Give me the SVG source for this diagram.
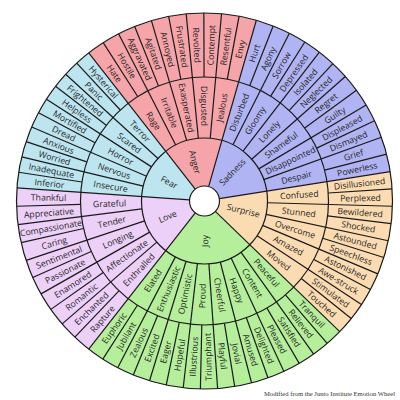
<svg xmlns="http://www.w3.org/2000/svg" xmlns:xlink="http://www.w3.org/1999/xlink" width="400" height="400" viewBox="0 0 400 400">
<style>
text{font-family:"Open Sans","Liberation Sans",sans-serif;font-size:8.7px;fill:#1f1f1f;text-anchor:middle}
.ln line,.ln use{stroke:#1a1a1a;stroke-width:1.2}
.ring{fill:none;stroke:#1a1a1a;stroke-width:1.2}
.cap{font-family:"Liberation Serif",serif;font-size:6.6px;text-anchor:end;fill:#333}
</style>
<defs>
<line id="lo" x1="0" y1="-124" x2="0" y2="-188"/>
<line id="lm" x1="0" y1="-63" x2="0" y2="-188"/>
<line id="lf" x1="0" y1="-15" x2="0" y2="-188"/>
</defs>
<rect width="400" height="400" fill="#fff"/>
<g transform="translate(204.5,201)">
<g id="anger">
<path d="M0 0L-115.74 -148.15A188 188 0 0 1 51.82 -180.72Z" fill="#F5A4A9"/>
<text dy=".35em" transform="rotate(54.7) translate(-156,0)">Hate</text>
<text dy=".35em" transform="rotate(60.1) translate(-156,0)">Hostile</text>
<text dy=".35em" transform="rotate(65.5) translate(-156,0)">Aggravated</text>
<text dy=".35em" transform="rotate(70.9) translate(-156,0)">Agitated</text>
<text dy=".35em" transform="rotate(76.3) translate(-156,0)">Annoyed</text>
<text dy=".35em" transform="rotate(81.7) translate(-156,0)">Frustrated</text>
<text dy=".35em" transform="rotate(87.1) translate(-156,0)">Revolted</text>
<text dy=".35em" transform="rotate(-87.5) translate(156,0)">Contempt</text>
<text dy=".35em" transform="rotate(-82.1) translate(156,0)">Resentful</text>
<text dy=".35em" transform="rotate(-76.7) translate(156,0)">Envy</text>
<text dy=".35em" transform="rotate(57.4) translate(-95,0)">Rage</text>
<text dy=".35em" transform="rotate(68.2) translate(-95,0)">Irritable</text>
<text dy=".35em" transform="rotate(79) translate(-95,0)">Exasperated</text>
<text dy=".35em" transform="rotate(89.8) translate(-95,0)">Disgusted</text>
<text dy=".35em" transform="rotate(-79.4) translate(95,0)">Jealous</text>
<text dy=".35em" transform="rotate(76) translate(-40,0)">Anger</text>
</g>
<g id="sadness">
<path d="M0 0L51.82 -180.72A188 188 0 0 1 185.69 -29.41Z" fill="#B1B4F3"/>
<text dy=".35em" transform="rotate(-71.29) translate(156,0)">Hurt</text>
<text dy=".35em" transform="rotate(-65.87) translate(156,0)">Agony</text>
<text dy=".35em" transform="rotate(-60.46) translate(156,0)">Sorrow</text>
<text dy=".35em" transform="rotate(-55.04) translate(156,0)">Depressed</text>
<text dy=".35em" transform="rotate(-49.62) translate(156,0)">Isolated</text>
<text dy=".35em" transform="rotate(-44.21) translate(156,0)">Neglected</text>
<text dy=".35em" transform="rotate(-38.79) translate(156,0)">Regret</text>
<text dy=".35em" transform="rotate(-33.37) translate(156,0)">Guilty</text>
<text dy=".35em" transform="rotate(-27.96) translate(156,0)">Displeased</text>
<text dy=".35em" transform="rotate(-22.54) translate(156,0)">Dismayed</text>
<text dy=".35em" transform="rotate(-17.12) translate(156,0)">Grief</text>
<text dy=".35em" transform="rotate(-11.71) translate(156,0)">Powerless</text>
<text dy=".35em" transform="rotate(-68.58) translate(95,0)">Disturbed</text>
<text dy=".35em" transform="rotate(-57.75) translate(95,0)">Gloomy</text>
<text dy=".35em" transform="rotate(-46.92) translate(95,0)">Lonely</text>
<text dy=".35em" transform="rotate(-36.08) translate(95,0)">Shameful</text>
<text dy=".35em" transform="rotate(-25.25) translate(95,0)">Disappointed</text>
<text dy=".35em" transform="rotate(-14.42) translate(95,0)">Despair</text>
<text dy=".35em" transform="rotate(-46) translate(40,0)">Sadness</text>
</g>
<g id="surprise">
<path d="M0 0L185.69 -29.41A188 188 0 0 1 135.24 130.6Z" fill="#FBDCB2"/>
<text dy=".35em" transform="rotate(-6.35) translate(156,0)">Disillusioned</text>
<text dy=".35em" transform="rotate(-1.05) translate(156,0)">Perplexed</text>
<text dy=".35em" transform="rotate(4.25) translate(156,0)">Bewildered</text>
<text dy=".35em" transform="rotate(9.55) translate(156,0)">Shocked</text>
<text dy=".35em" transform="rotate(14.85) translate(156,0)">Astounded</text>
<text dy=".35em" transform="rotate(20.15) translate(156,0)">Speechless</text>
<text dy=".35em" transform="rotate(25.45) translate(156,0)">Astonished</text>
<text dy=".35em" transform="rotate(30.75) translate(156,0)">Awe-struck</text>
<text dy=".35em" transform="rotate(36.05) translate(156,0)">Stimulated</text>
<text dy=".35em" transform="rotate(41.35) translate(156,0)">Touched</text>
<text dy=".35em" transform="rotate(-3.7) translate(95,0)">Confused</text>
<text dy=".35em" transform="rotate(6.9) translate(95,0)">Stunned</text>
<text dy=".35em" transform="rotate(17.5) translate(95,0)">Overcome</text>
<text dy=".35em" transform="rotate(28.1) translate(95,0)">Amazed</text>
<text dy=".35em" transform="rotate(38.7) translate(95,0)">Moved</text>
<text dy=".35em" transform="rotate(14) translate(40,0)">Surprise</text>
</g>
<g id="joy">
<path d="M0 0L135.24 130.6A188 188 0 0 1 -115.74 148.15Z" fill="#B6EF9B"/>
<text dy=".35em" transform="rotate(46.625) translate(156,0)">Tranquil</text>
<text dy=".35em" transform="rotate(51.875) translate(156,0)">Relieved</text>
<text dy=".35em" transform="rotate(57.125) translate(156,0)">Satisfied</text>
<text dy=".35em" transform="rotate(62.375) translate(156,0)">Pleased</text>
<text dy=".35em" transform="rotate(67.625) translate(156,0)">Delighted</text>
<text dy=".35em" transform="rotate(72.875) translate(156,0)">Amused</text>
<text dy=".35em" transform="rotate(78.125) translate(156,0)">Jovial</text>
<text dy=".35em" transform="rotate(83.375) translate(156,0)">Playful</text>
<text dy=".35em" transform="rotate(-91.375) translate(-156,0)">Triumphant</text>
<text dy=".35em" transform="rotate(-86.125) translate(-156,0)">Illustrious</text>
<text dy=".35em" transform="rotate(-80.875) translate(-156,0)">Hopeful</text>
<text dy=".35em" transform="rotate(-75.625) translate(-156,0)">Eager</text>
<text dy=".35em" transform="rotate(-70.375) translate(-156,0)">Excited</text>
<text dy=".35em" transform="rotate(-65.125) translate(-156,0)">Zealous</text>
<text dy=".35em" transform="rotate(-59.875) translate(-156,0)">Jubilant</text>
<text dy=".35em" transform="rotate(-54.625) translate(-156,0)">Euphoric</text>
<text dy=".35em" transform="rotate(49.25) translate(95,0)">Peaceful</text>
<text dy=".35em" transform="rotate(59.75) translate(95,0)">Content</text>
<text dy=".35em" transform="rotate(70.25) translate(95,0)">Happy</text>
<text dy=".35em" transform="rotate(80.75) translate(95,0)">Cheerful</text>
<text dy=".35em" transform="rotate(-88.75) translate(-95,0)">Proud</text>
<text dy=".35em" transform="rotate(-78.25) translate(-95,0)">Optimistic</text>
<text dy=".35em" transform="rotate(-67.75) translate(-95,0)">Enthusiastic</text>
<text dy=".35em" transform="rotate(-57.25) translate(-95,0)">Elated</text>
<text dy=".35em" transform="rotate(-91) translate(-40,0)">Joy</text>
</g>
<g id="love">
<path d="M0 0L-115.74 148.15A188 188 0 0 1 -187.54 -13.11Z" fill="#EDD0F7"/>
<text dy=".35em" transform="rotate(-49.2) translate(-156,0)">Rapture</text>
<text dy=".35em" transform="rotate(-43.6) translate(-156,0)">Enchanted</text>
<text dy=".35em" transform="rotate(-38) translate(-156,0)">Romantic</text>
<text dy=".35em" transform="rotate(-32.4) translate(-156,0)">Enamored</text>
<text dy=".35em" transform="rotate(-26.8) translate(-156,0)">Passionate</text>
<text dy=".35em" transform="rotate(-21.2) translate(-156,0)">Sentimental</text>
<text dy=".35em" transform="rotate(-15.6) translate(-156,0)">Caring</text>
<text dy=".35em" transform="rotate(-10) translate(-156,0)">Compassionate</text>
<text dy=".35em" transform="rotate(-4.4) translate(-156,0)">Appreciative</text>
<text dy=".35em" transform="rotate(1.2) translate(-156,0)">Thankful</text>
<text dy=".35em" transform="rotate(-46.4) translate(-95,0)">Enthralled</text>
<text dy=".35em" transform="rotate(-35.2) translate(-95,0)">Affectionate</text>
<text dy=".35em" transform="rotate(-24) translate(-95,0)">Longing</text>
<text dy=".35em" transform="rotate(-12.8) translate(-95,0)">Tender</text>
<text dy=".35em" transform="rotate(-1.6) translate(-95,0)">Grateful</text>
<text dy=".35em" transform="rotate(-23) translate(-40,0)">Love</text>
</g>
<g id="fear">
<path d="M0 0L-187.54 -13.11A188 188 0 0 1 -115.74 -148.15Z" fill="#BDE5F0"/>
<text dy=".35em" transform="rotate(6.4) translate(-156,0)">Inferior</text>
<text dy=".35em" transform="rotate(11.2) translate(-156,0)">Inadequate</text>
<text dy=".35em" transform="rotate(16) translate(-156,0)">Worried</text>
<text dy=".35em" transform="rotate(20.8) translate(-156,0)">Anxious</text>
<text dy=".35em" transform="rotate(25.6) translate(-156,0)">Dread</text>
<text dy=".35em" transform="rotate(30.4) translate(-156,0)">Mortified</text>
<text dy=".35em" transform="rotate(35.2) translate(-156,0)">Helpless</text>
<text dy=".35em" transform="rotate(40) translate(-156,0)">Frightened</text>
<text dy=".35em" transform="rotate(44.8) translate(-156,0)">Panic</text>
<text dy=".35em" transform="rotate(49.6) translate(-156,0)">Hysterical</text>
<text dy=".35em" transform="rotate(8.8) translate(-95,0)">Insecure</text>
<text dy=".35em" transform="rotate(18.4) translate(-95,0)">Nervous</text>
<text dy=".35em" transform="rotate(28) translate(-95,0)">Horror</text>
<text dy=".35em" transform="rotate(37.6) translate(-95,0)">Scared</text>
<text dy=".35em" transform="rotate(47.2) translate(-95,0)">Terror</text>
<text dy=".35em" transform="rotate(28) translate(-40,0)">Fear</text>
</g>
<g id="connectors" class="ln">
<use href="#lo" transform="rotate(-32.6)"/><use href="#lo" transform="rotate(-21.8)"/><use href="#lo" transform="rotate(-11)"/><use href="#lo" transform="rotate(-0.2)"/><use href="#lo" transform="rotate(10.6)"/>
<use href="#lm" transform="rotate(-27.2)"/><use href="#lm" transform="rotate(-16.4)"/><use href="#lm" transform="rotate(-5.6)"/><use href="#lm" transform="rotate(5.2)"/>
<use href="#lo" transform="rotate(21.42)"/><use href="#lo" transform="rotate(32.25)"/><use href="#lo" transform="rotate(43.08)"/><use href="#lo" transform="rotate(53.92)"/><use href="#lo" transform="rotate(64.75)"/><use href="#lo" transform="rotate(75.58)"/>
<use href="#lm" transform="rotate(26.83)"/><use href="#lm" transform="rotate(37.67)"/><use href="#lm" transform="rotate(48.5)"/><use href="#lm" transform="rotate(59.33)"/><use href="#lm" transform="rotate(70.17)"/>
<use href="#lo" transform="rotate(86.3)"/><use href="#lo" transform="rotate(96.9)"/><use href="#lo" transform="rotate(107.5)"/><use href="#lo" transform="rotate(118.1)"/><use href="#lo" transform="rotate(128.7)"/>
<use href="#lm" transform="rotate(91.6)"/><use href="#lm" transform="rotate(102.2)"/><use href="#lm" transform="rotate(112.8)"/><use href="#lm" transform="rotate(123.4)"/>
<use href="#lo" transform="rotate(139.25)"/><use href="#lo" transform="rotate(149.75)"/><use href="#lo" transform="rotate(160.25)"/><use href="#lo" transform="rotate(170.75)"/><use href="#lo" transform="rotate(181.25)"/><use href="#lo" transform="rotate(191.75)"/><use href="#lo" transform="rotate(202.25)"/><use href="#lo" transform="rotate(212.75)"/>
<use href="#lm" transform="rotate(144.5)"/><use href="#lm" transform="rotate(155)"/><use href="#lm" transform="rotate(165.5)"/><use href="#lm" transform="rotate(176)"/><use href="#lm" transform="rotate(186.5)"/><use href="#lm" transform="rotate(197)"/><use href="#lm" transform="rotate(207.5)"/>
<use href="#lo" transform="rotate(223.6)"/><use href="#lo" transform="rotate(234.8)"/><use href="#lo" transform="rotate(246)"/><use href="#lo" transform="rotate(257.2)"/><use href="#lo" transform="rotate(268.4)"/>
<use href="#lm" transform="rotate(229.2)"/><use href="#lm" transform="rotate(240.4)"/><use href="#lm" transform="rotate(251.6)"/><use href="#lm" transform="rotate(262.8)"/>
<use href="#lo" transform="rotate(278.8)"/><use href="#lo" transform="rotate(288.4)"/><use href="#lo" transform="rotate(298)"/><use href="#lo" transform="rotate(307.6)"/><use href="#lo" transform="rotate(317.2)"/>
<use href="#lm" transform="rotate(283.6)"/><use href="#lm" transform="rotate(293.2)"/><use href="#lm" transform="rotate(302.8)"/><use href="#lm" transform="rotate(312.4)"/>
<use href="#lf" transform="rotate(-38)"/><use href="#lf" transform="rotate(16)"/><use href="#lf" transform="rotate(81)"/><use href="#lf" transform="rotate(134)"/><use href="#lf" transform="rotate(218)"/><use href="#lf" transform="rotate(274)"/>
<circle class="ring" r="63"/>
<circle class="ring" r="124"/>
<circle class="ring" r="188"/>
<circle r="15" fill="#fff" stroke="#1a1a1a" stroke-width="1.2"/>
</g>
</g>
<text class="cap" x="395" y="396">Modified from the Junto Institute Emotion Wheel</text>
</svg>
